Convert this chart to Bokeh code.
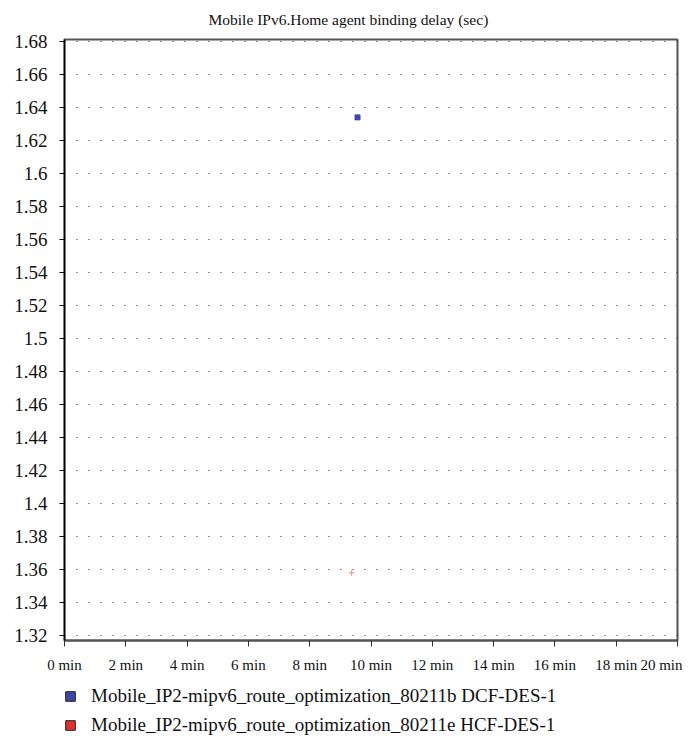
from bokeh.plotting import figure
from bokeh.layouts import column
from bokeh.models import ColumnDataSource, FixedTicker, Legend, LegendItem, Range1d
from bokeh.embed import file_html
from bokeh.resources import INLINE

# ---- data ----
title_text = "Mobile IPv6.Home agent binding delay (sec)"
series_names = ["Mobile_IP2-mipv6_route_optimization_80211b DCF-DES-1",
                "Mobile_IP2-mipv6_route_optimization_80211e HCF-DES-1"]
series_colors = ["#4046A6", "#E0312A"]
dcf_x = [9.56]
dcf_y = [1.634]
hcf_x = [9.37]
hcf_y = [1.358]
x_ticks = [0, 2, 4, 6, 8, 10, 12, 14, 16, 18, 20]
x_tick_labels = ["0 min", "2 min", "4 min", "6 min", "8 min", "10 min",
                 "12 min", "14 min", "16 min", "18 min", "20 min"]
y_ticks = [1.32, 1.34, 1.36, 1.38, 1.4, 1.42, 1.44, 1.46, 1.48, 1.5,
           1.52, 1.54, 1.56, 1.58, 1.6, 1.62, 1.64, 1.66, 1.68]
y_tick_labels = ["1.32", "1.34", "1.36", "1.38", "1.4", "1.42", "1.44", "1.46", "1.48", "1.5",
                 "1.52", "1.54", "1.56", "1.58", "1.6", "1.62", "1.64", "1.66", "1.68"]

FONT = "Liberation Serif"

p = figure(width=682, height=676, output_backend="svg", toolbar_location=None,
           x_range=Range1d(0, 20), y_range=Range1d(1.317, 1.6812),
           min_border_left=64, min_border_right=5, min_border_top=39, min_border_bottom=36)

p.title.text = title_text
p.title.text_font = FONT
p.title.text_font_size = "15.5px"
p.title.text_font_style = "normal"
p.title.align = "left"
p.title.offset = 144
p.title.vertical_align = "top"
p.title.standoff = 20
p.title.text_color = "#111111"

p.outline_line_color = "#555555"
p.outline_line_width = 2

# axes
p.xaxis.ticker = FixedTicker(ticks=x_ticks)
p.xaxis.major_label_overrides = {t: l for t, l in zip(x_ticks, x_tick_labels)}
p.yaxis.ticker = FixedTicker(ticks=y_ticks)
p.yaxis.major_label_overrides = {t: l for t, l in zip(y_ticks, y_tick_labels)}
for ax in (p.xaxis, p.yaxis):
    ax.minor_tick_line_color = None
    ax.major_tick_in = 0
    ax.major_label_text_font = FONT
    ax.major_label_text_color = "#111111"
p.xaxis.major_tick_out = 6
p.xaxis.axis_line_color = "#555555"
p.xaxis.axis_line_width = 2
p.xaxis.major_tick_line_color = "#333333"
p.xaxis.major_label_text_font_size = "15px"
p.xaxis.major_label_standoff = 10
p.yaxis.major_tick_out = 5
p.yaxis.axis_line_color = "black"
p.yaxis.axis_line_width = 1.5
p.yaxis.major_tick_line_color = "black"
p.yaxis.major_label_text_font_size = "19px"
p.yaxis.major_label_standoff = 12

# grid
p.xgrid.grid_line_color = None
p.ygrid.grid_line_color = "#222222"
p.ygrid.grid_line_dash = "1 11"
p.ygrid.grid_line_dash_offset = 0
p.ygrid.grid_line_width = 1

# data
p.scatter(x=dcf_x, y=dcf_y, marker="square", size=5, fill_color=series_colors[0],
          line_color=series_colors[0])
p.scatter(x=hcf_x, y=hcf_y, marker="cross", size=6, line_color="#F08A8A", line_width=1)

# ---- legend strip ----
lg = figure(width=682, height=60, output_backend="svg", toolbar_location=None,
            x_range=Range1d(0, 1), y_range=Range1d(0, 1),
            min_border=0, outline_line_color=None)
lg.xaxis.visible = False
lg.yaxis.visible = False
lg.xgrid.visible = False
lg.ygrid.visible = False

# swatch renderers sit outside the visible range; only their legend swatches show
off = dict(left=[5], right=[6], top=[6], bottom=[5])
r1 = lg.quad(source=ColumnDataSource(off), left="left", right="right", top="top", bottom="bottom",
             fill_color=series_colors[0], line_color="#222222", line_width=1)
r2 = lg.quad(source=ColumnDataSource(off), left="left", right="right", top="top", bottom="bottom",
             fill_color=series_colors[1], line_color="#222222", line_width=1)

legend = Legend(items=[LegendItem(label=series_names[0], renderers=[r1]),
                       LegendItem(label=series_names[1], renderers=[r2])],
                location=(0, 0), orientation="vertical",
                border_line_color=None, background_fill_alpha=0,
                label_text_font=FONT, label_text_font_size="19px", label_text_color="#111111",
                glyph_width=12, glyph_height=12, label_standoff=15, spacing=7,
                padding=0, margin=0)
legend.label_height = 20
lg.add_layout(legend, "center")

layout = column(p, lg, spacing=0)
open("out.html", "w").write(file_html(layout, INLINE))
